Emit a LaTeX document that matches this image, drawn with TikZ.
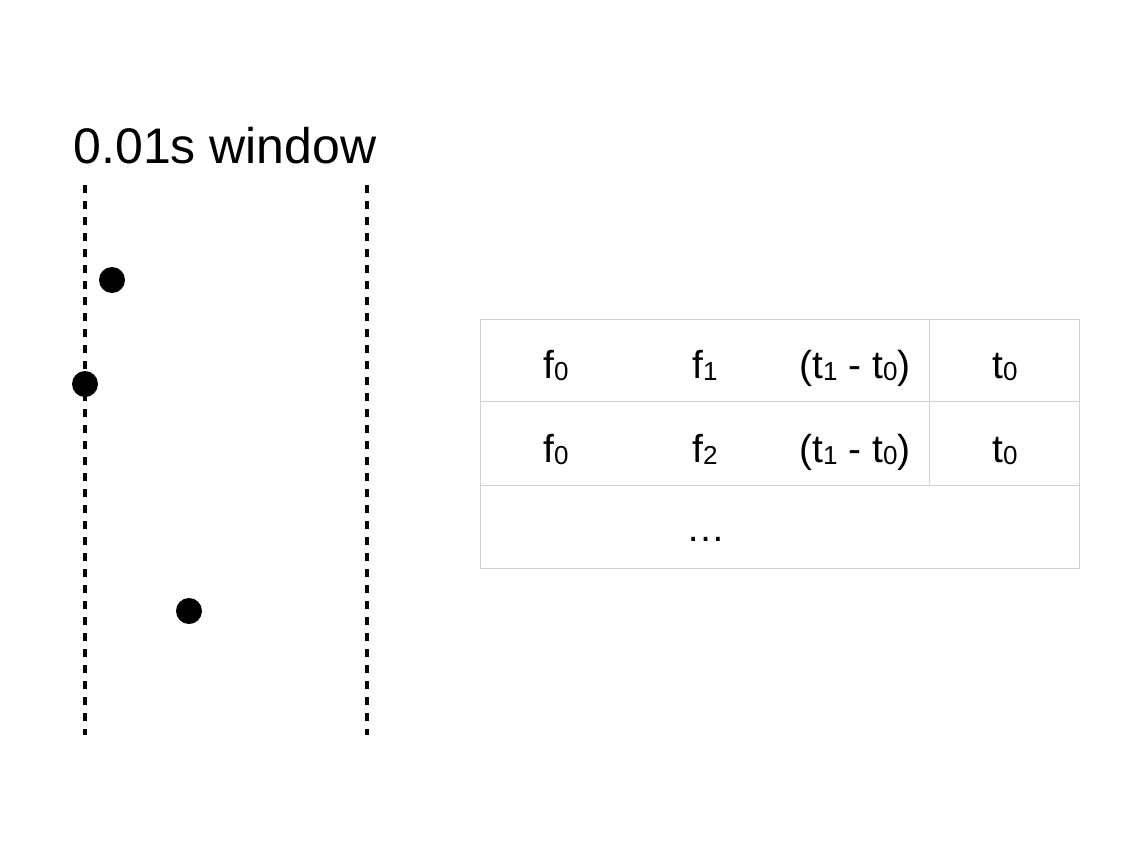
\documentclass[tikz,border=0pt]{standalone}
\usepackage{fontspec}
\setmainfont{Liberation Sans}
\newcommand{\sbs}[1]{\raisebox{-0.06em}{\fontsize{26}{26}\selectfont #1}}
\begin{document}
\begin{tikzpicture}[x=1pt,y=-1pt,
  winline/.style={line width=4pt,dash pattern=on 8pt off 8pt},
  dot/.style={circle,fill=black,inner sep=0pt,minimum size=26pt},
  cell/.style={anchor=base,inner sep=0pt,font=\fontsize{39}{39}\selectfont},
  grid/.style={draw=black!18,line width=1pt}]
\useasboundingbox (0,0) rectangle (1125,844);
% title
\node[anchor=base,inner sep=0pt,font=\fontsize{50}{50}\selectfont] (title) at (225,163) {0.01s window};
% window lines
\coordinate (l1) at (85,185); \coordinate (l2) at (85,735);
\coordinate (r1) at (367,185); \coordinate (r2) at (367,735);
\draw[winline] (l1) -- (l2);
\draw[winline] (r1) -- (r2);
% dots
\node[dot] (d1) at (112,280) {};
\node[dot] (d2) at (85,384) {};
\node[dot] (d3) at (189,611) {};
% table
\draw[grid] (480,319) rectangle (1079,568);
\draw[grid] (480,401) -- (1079,401);
\draw[grid] (480,485) -- (1079,485);
\draw[grid] (929,319) -- (929,485);
\node[cell] (a1) at (556,378) {f\sbs{0}};
\node[cell] (b1) at (705,378) {f\sbs{1}};
\node[cell] (c1) at (855,378) {(t\sbs{1} - t\sbs{0})};
\node[cell] (e1) at (1005,378) {t\sbs{0}};
\node[cell] (a2) at (556,462) {f\sbs{0}};
\node[cell] (b2) at (705,462) {f\sbs{2}};
\node[cell] (c2) at (855,462) {(t\sbs{1} - t\sbs{0})};
\node[cell] (e2) at (1005,462) {t\sbs{0}};
\node[cell] (dots) at (706,541) {\ldots};
\end{tikzpicture}
\end{document}
